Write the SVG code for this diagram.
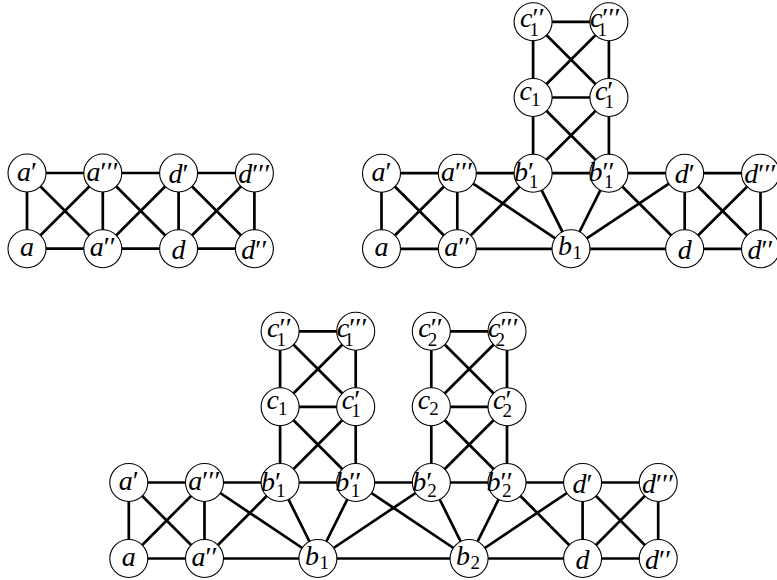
<svg xmlns="http://www.w3.org/2000/svg" width="777" height="580" viewBox="0 0 777 580">
<style>
.e line{stroke:#000;stroke-width:2.7;stroke-linecap:butt}
.n circle{fill:#fff;stroke:#000;stroke-width:1.1}
.n text{font-family:"Liberation Serif","DejaVu Serif",serif;font-style:italic;font-size:28px;fill:#000}
.m{text-anchor:middle}
.p{font-style:normal}
.s{font-style:normal;font-size:19px}
</style>
<rect width="777" height="580" fill="#fff"/>
<g id="connectors" class="e">
<line x1="27" y1="173" x2="102.8" y2="173"/>
<line x1="27" y1="173" x2="27" y2="248.7"/>
<line x1="27" y1="173" x2="102.8" y2="248.7"/>
<line x1="27" y1="248.7" x2="102.8" y2="173"/>
<line x1="27" y1="248.7" x2="102.8" y2="248.7"/>
<line x1="102.8" y1="173" x2="102.8" y2="248.7"/>
<line x1="102.8" y1="173" x2="178.6" y2="173"/>
<line x1="102.8" y1="248.7" x2="178.6" y2="248.7"/>
<line x1="102.8" y1="173" x2="178.6" y2="248.7"/>
<line x1="102.8" y1="248.7" x2="178.6" y2="173"/>
<line x1="178.6" y1="173" x2="254.4" y2="173"/>
<line x1="178.6" y1="173" x2="178.6" y2="248.7"/>
<line x1="178.6" y1="173" x2="254.4" y2="248.7"/>
<line x1="178.6" y1="248.7" x2="254.4" y2="173"/>
<line x1="178.6" y1="248.7" x2="254.4" y2="248.7"/>
<line x1="254.4" y1="173" x2="254.4" y2="248.7"/>
<line x1="381.5" y1="173.2" x2="457.3" y2="173.2"/>
<line x1="381.5" y1="173.2" x2="381.5" y2="248.8"/>
<line x1="381.5" y1="173.2" x2="457.3" y2="248.8"/>
<line x1="381.5" y1="248.8" x2="457.3" y2="173.2"/>
<line x1="381.5" y1="248.8" x2="457.3" y2="248.8"/>
<line x1="457.3" y1="173.2" x2="457.3" y2="248.8"/>
<line x1="457.3" y1="173.2" x2="533.1" y2="173.2"/>
<line x1="457.3" y1="173.2" x2="571" y2="248.8"/>
<line x1="457.3" y1="248.8" x2="533.1" y2="173.2"/>
<line x1="457.3" y1="248.8" x2="571" y2="248.8"/>
<line x1="533.1" y1="173.2" x2="608.9" y2="173.2"/>
<line x1="533.1" y1="173.2" x2="571" y2="248.8"/>
<line x1="608.9" y1="173.2" x2="571" y2="248.8"/>
<line x1="608.9" y1="173.2" x2="684.7" y2="173.2"/>
<line x1="608.9" y1="173.2" x2="684.7" y2="248.8"/>
<line x1="571" y1="248.8" x2="684.7" y2="173.2"/>
<line x1="571" y1="248.8" x2="684.7" y2="248.8"/>
<line x1="684.7" y1="173.2" x2="760.5" y2="173.2"/>
<line x1="684.7" y1="173.2" x2="684.7" y2="248.8"/>
<line x1="684.7" y1="173.2" x2="760.5" y2="248.8"/>
<line x1="684.7" y1="248.8" x2="760.5" y2="173.2"/>
<line x1="684.7" y1="248.8" x2="760.5" y2="248.8"/>
<line x1="760.5" y1="173.2" x2="760.5" y2="248.8"/>
<line x1="533.1" y1="21.8" x2="608.9" y2="21.8"/>
<line x1="533.1" y1="21.8" x2="533.1" y2="97.5"/>
<line x1="533.1" y1="21.8" x2="608.9" y2="97.5"/>
<line x1="608.9" y1="21.8" x2="533.1" y2="97.5"/>
<line x1="608.9" y1="21.8" x2="608.9" y2="97.5"/>
<line x1="533.1" y1="97.5" x2="608.9" y2="97.5"/>
<line x1="533.1" y1="97.5" x2="533.1" y2="173.2"/>
<line x1="533.1" y1="97.5" x2="608.9" y2="173.2"/>
<line x1="608.9" y1="97.5" x2="533.1" y2="173.2"/>
<line x1="608.9" y1="97.5" x2="608.9" y2="173.2"/>
<line x1="128.8" y1="482.5" x2="204.5" y2="482.5"/>
<line x1="128.8" y1="482.5" x2="128.8" y2="558.5"/>
<line x1="128.8" y1="482.5" x2="204.5" y2="558.5"/>
<line x1="128.8" y1="558.5" x2="204.5" y2="482.5"/>
<line x1="128.8" y1="558.5" x2="204.5" y2="558.5"/>
<line x1="204.5" y1="482.5" x2="204.5" y2="558.5"/>
<line x1="204.5" y1="482.5" x2="280.1" y2="482.5"/>
<line x1="204.5" y1="482.5" x2="317.9" y2="558.5"/>
<line x1="204.5" y1="558.5" x2="280.1" y2="482.5"/>
<line x1="204.5" y1="558.5" x2="317.9" y2="558.5"/>
<line x1="280.1" y1="482.5" x2="355.7" y2="482.5"/>
<line x1="280.1" y1="482.5" x2="317.9" y2="558.5"/>
<line x1="355.7" y1="482.5" x2="317.9" y2="558.5"/>
<line x1="355.7" y1="482.5" x2="431.3" y2="482.5"/>
<line x1="355.7" y1="482.5" x2="469.1" y2="558.5"/>
<line x1="317.9" y1="558.5" x2="431.3" y2="482.5"/>
<line x1="317.9" y1="558.5" x2="469.1" y2="558.5"/>
<line x1="431.3" y1="482.5" x2="507" y2="482.5"/>
<line x1="431.3" y1="482.5" x2="469.1" y2="558.5"/>
<line x1="507" y1="482.5" x2="469.1" y2="558.5"/>
<line x1="507" y1="482.5" x2="582.6" y2="482.5"/>
<line x1="507" y1="482.5" x2="582.6" y2="558.5"/>
<line x1="469.1" y1="558.5" x2="582.6" y2="482.5"/>
<line x1="469.1" y1="558.5" x2="582.6" y2="558.5"/>
<line x1="582.6" y1="482.5" x2="658.2" y2="482.5"/>
<line x1="582.6" y1="482.5" x2="582.6" y2="558.5"/>
<line x1="582.6" y1="482.5" x2="658.2" y2="558.5"/>
<line x1="582.6" y1="558.5" x2="658.2" y2="482.5"/>
<line x1="582.6" y1="558.5" x2="658.2" y2="558.5"/>
<line x1="658.2" y1="482.5" x2="658.2" y2="558.5"/>
<line x1="280.1" y1="331.3" x2="355.7" y2="331.3"/>
<line x1="280.1" y1="331.3" x2="280.1" y2="406.8"/>
<line x1="280.1" y1="331.3" x2="355.7" y2="406.8"/>
<line x1="355.7" y1="331.3" x2="280.1" y2="406.8"/>
<line x1="355.7" y1="331.3" x2="355.7" y2="406.8"/>
<line x1="280.1" y1="406.8" x2="355.7" y2="406.8"/>
<line x1="280.1" y1="406.8" x2="280.1" y2="482.5"/>
<line x1="280.1" y1="406.8" x2="355.7" y2="482.5"/>
<line x1="355.7" y1="406.8" x2="280.1" y2="482.5"/>
<line x1="355.7" y1="406.8" x2="355.7" y2="482.5"/>
<line x1="431.3" y1="331.3" x2="507" y2="331.3"/>
<line x1="431.3" y1="331.3" x2="431.3" y2="406.8"/>
<line x1="431.3" y1="331.3" x2="507" y2="406.8"/>
<line x1="507" y1="331.3" x2="431.3" y2="406.8"/>
<line x1="507" y1="331.3" x2="507" y2="406.8"/>
<line x1="431.3" y1="406.8" x2="507" y2="406.8"/>
<line x1="431.3" y1="406.8" x2="431.3" y2="482.5"/>
<line x1="431.3" y1="406.8" x2="507" y2="482.5"/>
<line x1="507" y1="406.8" x2="431.3" y2="482.5"/>
<line x1="507" y1="406.8" x2="507" y2="482.5"/>
</g>
<g id="tl-a1" class="n"><circle cx="27" cy="173" r="19"/><text class="m" x="27" y="180.5">a<tspan class="p">′</tspan></text></g>
<g id="tl-a3" class="n"><circle cx="102.8" cy="173" r="19"/><text class="m" x="102.8" y="180.5">a<tspan class="p">′′′</tspan></text></g>
<g id="tl-d1" class="n"><circle cx="178.6" cy="173" r="19"/><text class="m" x="178.6" y="183">d<tspan class="p">′</tspan></text></g>
<g id="tl-d3" class="n"><circle cx="254.4" cy="173" r="19"/><text class="m" x="254.4" y="183">d<tspan class="p">′′′</tspan></text></g>
<g id="tl-a0" class="n"><circle cx="27" cy="248.7" r="19"/><text class="m" x="27" y="256.2">a</text></g>
<g id="tl-a2" class="n"><circle cx="102.8" cy="248.7" r="19"/><text class="m" x="102.8" y="256.2">a<tspan class="p">′′</tspan></text></g>
<g id="tl-d0" class="n"><circle cx="178.6" cy="248.7" r="19"/><text class="m" x="178.6" y="258.7">d</text></g>
<g id="tl-d2" class="n"><circle cx="254.4" cy="248.7" r="19"/><text class="m" x="254.4" y="258.7">d<tspan class="p">′′</tspan></text></g>
<g id="tr-a1" class="n"><circle cx="381.5" cy="173.2" r="19"/><text class="m" x="381.5" y="180.7">a<tspan class="p">′</tspan></text></g>
<g id="tr-a3" class="n"><circle cx="457.3" cy="173.2" r="19"/><text class="m" x="457.3" y="180.7">a<tspan class="p">′′′</tspan></text></g>
<g id="tr-b1p" class="n"><circle cx="533.1" cy="173.2" r="19"/><text x="514.1" y="181.2">b<tspan class="p">′</tspan><tspan class="s" x="529.1" y="187.7">1</tspan></text></g>
<g id="tr-b1pp" class="n"><circle cx="608.9" cy="173.2" r="19"/><text x="588.4" y="181.2">b<tspan class="p">′′</tspan><tspan class="s" x="603.9" y="187.7">1</tspan></text></g>
<g id="tr-d1" class="n"><circle cx="684.7" cy="173.2" r="19"/><text class="m" x="684.7" y="183.2">d<tspan class="p">′</tspan></text></g>
<g id="tr-d3" class="n"><circle cx="760.5" cy="173.2" r="19"/><text class="m" x="760.5" y="183.2">d<tspan class="p">′′′</tspan></text></g>
<g id="tr-a0" class="n"><circle cx="381.5" cy="248.8" r="19"/><text class="m" x="381.5" y="256.3">a</text></g>
<g id="tr-a2" class="n"><circle cx="457.3" cy="248.8" r="19"/><text class="m" x="457.3" y="256.3">a<tspan class="p">′′</tspan></text></g>
<g id="tr-b1" class="n"><circle cx="571" cy="248.8" r="19"/><text x="558" y="254.8">b<tspan class="s" x="572.5" y="258.8">1</tspan></text></g>
<g id="tr-d0" class="n"><circle cx="684.7" cy="248.8" r="19"/><text class="m" x="684.7" y="258.8">d</text></g>
<g id="tr-d2" class="n"><circle cx="760.5" cy="248.8" r="19"/><text class="m" x="760.5" y="258.8">d<tspan class="p">′′</tspan></text></g>
<g id="tr-c1" class="n"><circle cx="533.1" cy="97.5" r="19"/><text x="519.6" y="99.7">c<tspan class="s" x="531.1" y="105.7">1</tspan></text></g>
<g id="tr-c1p" class="n"><circle cx="608.9" cy="97.5" r="19"/><text x="594.9" y="99.7">c<tspan class="p">′</tspan><tspan class="s" x="604.4" y="107.7">1</tspan></text></g>
<g id="tr-c1pp" class="n"><circle cx="533.1" cy="21.8" r="19"/><text x="520.1" y="27.3">c<tspan class="p">′′</tspan><tspan class="s" x="529.6" y="36.3">1</tspan></text></g>
<g id="tr-c1ppp" class="n"><circle cx="608.9" cy="21.8" r="19"/><text x="589.9" y="27.3">c<tspan class="p">′′′</tspan><tspan class="s" x="597.4" y="36.3">1</tspan></text></g>
<g id="b-a1" class="n"><circle cx="128.8" cy="482.5" r="19"/><text class="m" x="128.8" y="490">a<tspan class="p">′</tspan></text></g>
<g id="b-a3" class="n"><circle cx="204.5" cy="482.5" r="19"/><text class="m" x="204.5" y="490">a<tspan class="p">′′′</tspan></text></g>
<g id="b-b1p" class="n"><circle cx="280.1" cy="482.5" r="19"/><text x="261.1" y="490.5">b<tspan class="p">′</tspan><tspan class="s" x="276.1" y="497">1</tspan></text></g>
<g id="b-b1pp" class="n"><circle cx="355.7" cy="482.5" r="19"/><text x="335.2" y="490.5">b<tspan class="p">′′</tspan><tspan class="s" x="350.7" y="497">1</tspan></text></g>
<g id="b-b2p" class="n"><circle cx="431.3" cy="482.5" r="19"/><text x="412.3" y="490.5">b<tspan class="p">′</tspan><tspan class="s" x="427.3" y="497">2</tspan></text></g>
<g id="b-b2pp" class="n"><circle cx="507" cy="482.5" r="19"/><text x="486.5" y="490.5">b<tspan class="p">′′</tspan><tspan class="s" x="502" y="497">2</tspan></text></g>
<g id="b-d1" class="n"><circle cx="582.6" cy="482.5" r="19"/><text class="m" x="582.6" y="492.5">d<tspan class="p">′</tspan></text></g>
<g id="b-d3" class="n"><circle cx="658.2" cy="482.5" r="19"/><text class="m" x="658.2" y="492.5">d<tspan class="p">′′′</tspan></text></g>
<g id="b-a0" class="n"><circle cx="128.8" cy="558.5" r="19"/><text class="m" x="128.8" y="566">a</text></g>
<g id="b-a2" class="n"><circle cx="204.5" cy="558.5" r="19"/><text class="m" x="204.5" y="566">a<tspan class="p">′′</tspan></text></g>
<g id="b-b1" class="n"><circle cx="317.9" cy="558.5" r="19"/><text x="304.9" y="564.5">b<tspan class="s" x="319.4" y="568.5">1</tspan></text></g>
<g id="b-b2" class="n"><circle cx="469.1" cy="558.5" r="19"/><text x="456.1" y="564.5">b<tspan class="s" x="470.6" y="568.5">2</tspan></text></g>
<g id="b-d0" class="n"><circle cx="582.6" cy="558.5" r="19"/><text class="m" x="582.6" y="568.5">d</text></g>
<g id="b-d2" class="n"><circle cx="658.2" cy="558.5" r="19"/><text class="m" x="658.2" y="568.5">d<tspan class="p">′′</tspan></text></g>
<g id="b-c1" class="n"><circle cx="280.1" cy="406.8" r="19"/><text x="266.6" y="409">c<tspan class="s" x="278.1" y="415">1</tspan></text></g>
<g id="b-c1p" class="n"><circle cx="355.7" cy="406.8" r="19"/><text x="341.7" y="409">c<tspan class="p">′</tspan><tspan class="s" x="351.2" y="417">1</tspan></text></g>
<g id="b-c1pp" class="n"><circle cx="280.1" cy="331.3" r="19"/><text x="267.1" y="336.8">c<tspan class="p">′′</tspan><tspan class="s" x="276.6" y="345.8">1</tspan></text></g>
<g id="b-c1ppp" class="n"><circle cx="355.7" cy="331.3" r="19"/><text x="336.7" y="336.8">c<tspan class="p">′′′</tspan><tspan class="s" x="344.2" y="345.8">1</tspan></text></g>
<g id="b-c2" class="n"><circle cx="431.3" cy="406.8" r="19"/><text x="417.8" y="409">c<tspan class="s" x="429.3" y="415">2</tspan></text></g>
<g id="b-c2p" class="n"><circle cx="507" cy="406.8" r="19"/><text x="493" y="409">c<tspan class="p">′</tspan><tspan class="s" x="502.5" y="417">2</tspan></text></g>
<g id="b-c2pp" class="n"><circle cx="431.3" cy="331.3" r="19"/><text x="418.3" y="336.8">c<tspan class="p">′′</tspan><tspan class="s" x="427.8" y="345.8">2</tspan></text></g>
<g id="b-c2ppp" class="n"><circle cx="507" cy="331.3" r="19"/><text x="488" y="336.8">c<tspan class="p">′′′</tspan><tspan class="s" x="495.5" y="345.8">2</tspan></text></g>
</svg>
